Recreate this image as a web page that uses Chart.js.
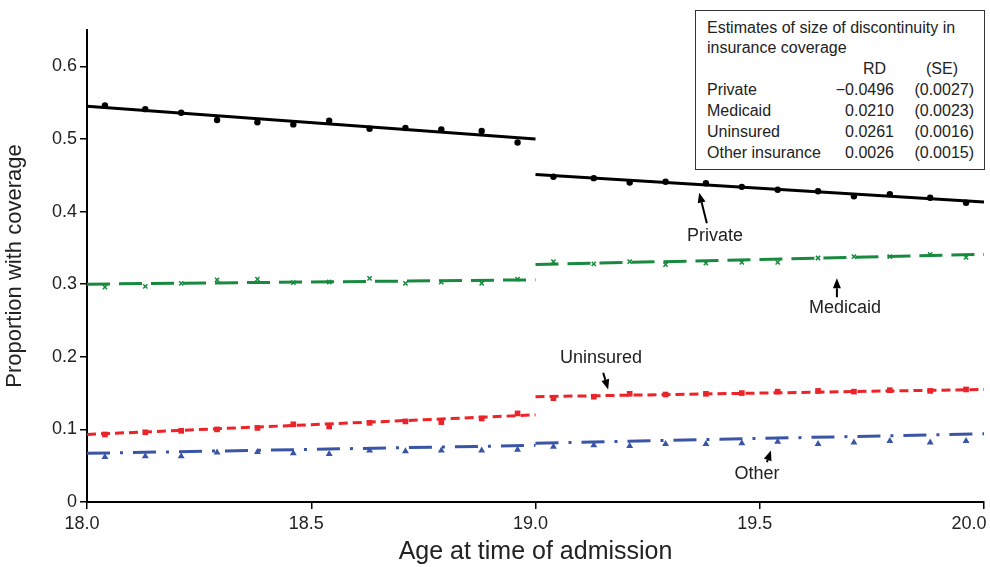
<!DOCTYPE html>
<html>
<head>
<meta charset="utf-8">
<script src="https://cdn.jsdelivr.net/npm/chart.js@4.4.0/dist/chart.umd.min.js"></script>
<style>
  html, body { margin: 0; padding: 0; background: #fff; }
  #wrap { position: relative; width: 990px; height: 567px; }
  #box {
    position: absolute; left: 695px; top: 10px; width: 290px; height: 160px;
    box-sizing: border-box; border: 1.5px solid #333; background: #fff;
    font-family: "Liberation Sans", Arial, sans-serif; font-size: 16px; color: #222;
    padding: 7px 0 0 11px; line-height: 20px;
  }
  #box table { border-collapse: collapse; margin-top: 0px; }
  #box td { padding: 0; height: 21px; white-space: nowrap; }
  #box td.lab { width: 126px; }
  #box td.rd { width: 61px; text-align: right; }
  #box td.se { width: 80px; text-align: right; }
  #box tr.head td.rd { padding-right: 8px; width: 53px; }
  #box tr.head td.se { padding-right: 16px; width: 64px; }
</style>
</head>
<body>
<div id="wrap">
  <canvas id="myChart" width="990" height="567"></canvas>
  <div id="box">
    <div>Estimates of size of discontinuity in</div>
    <div>insurance coverage</div>
    <table>
      <tr class="head"><td class="lab"></td><td class="rd">RD</td><td class="se">(SE)</td></tr>
      <tr><td class="lab">Private</td><td class="rd">&minus;0.0496</td><td class="se">(0.0027)</td></tr>
      <tr><td class="lab">Medicaid</td><td class="rd">0.0210</td><td class="se">(0.0023)</td></tr>
      <tr><td class="lab">Uninsured</td><td class="rd">0.0261</td><td class="se">(0.0016)</td></tr>
      <tr><td class="lab">Other insurance</td><td class="rd">0.0026</td><td class="se">(0.0015)</td></tr>
    </table>
  </div>
</div>
<script>
// monthly age bins (x) and share of admissions with each coverage type
const ages = [18.04, 18.13, 18.21, 18.29, 18.38, 18.46, 18.54, 18.63, 18.71, 18.79, 18.88, 18.96,
              19.04, 19.13, 19.21, 19.29, 19.38, 19.46, 19.54, 19.63, 19.71, 19.79, 19.88, 19.96];
const privateRate = [0.546, 0.541, 0.536, 0.526, 0.523, 0.520, 0.525, 0.514, 0.515, 0.513, 0.511, 0.495,
                     0.448, 0.446, 0.440, 0.441, 0.439, 0.434, 0.430, 0.428, 0.421, 0.424, 0.419, 0.412];
const medicaidRate = [0.296, 0.297, 0.301, 0.306, 0.307, 0.302, 0.303, 0.308, 0.301, 0.303, 0.301, 0.307,
                      0.331, 0.328, 0.331, 0.327, 0.329, 0.330, 0.330, 0.336, 0.338, 0.338, 0.341, 0.337];
const uninsuredRate = [0.093, 0.096, 0.098, 0.100, 0.102, 0.107, 0.104, 0.109, 0.111, 0.110, 0.115, 0.122,
                       0.143, 0.145, 0.149, 0.148, 0.149, 0.150, 0.152, 0.153, 0.152, 0.154, 0.153, 0.155];
const otherRate = [0.062, 0.063, 0.063, 0.068, 0.069, 0.067, 0.066, 0.071, 0.070, 0.071, 0.071, 0.072,
                   0.076, 0.078, 0.077, 0.080, 0.080, 0.081, 0.083, 0.080, 0.082, 0.084, 0.082, 0.084];

// fitted lines: left segment (18-19) and right segment (19-20)
const fitAges = [18.0, 19.0, 19.0, 20.0];
const privateFit = [0.545, 0.500, 0.451, 0.413];
const medicaidFit = [0.300, 0.306, 0.327, 0.341];
const uninsuredFit = [0.093, 0.120, 0.145, 0.155];
const otherFit = [0.067, 0.078, 0.081, 0.094];

const xTicks = [18.0, 18.5, 19.0, 19.5, 20.0];
const yTicks = [0, 0.1, 0.2, 0.3, 0.4, 0.5, 0.6];

const FONT = '"Liberation Sans", Arial, sans-serif';

function pts(vals) {
  return ages.map((a, i) => ({x: a, y: vals[i]}));
}
function fitPts(vals) {
  // null in the middle breaks the line at age 19
  return [
    {x: fitAges[0], y: vals[0]}, {x: fitAges[1], y: vals[1]},
    {x: fitAges[1], y: null},
    {x: fitAges[2], y: vals[2]}, {x: fitAges[3], y: vals[3]}
  ];
}

// label text and arrows, in data coordinates
const notes = [
  {text: 'Private',   at: [19.400, 0.366], from: [19.382, 0.384], to: [19.365, 0.426]},
  {text: 'Medicaid',  at: [19.690, 0.267], from: [19.672, 0.282], to: [19.672, 0.308]},
  {text: 'Uninsured', at: [19.146, 0.198], from: [19.151, 0.178], to: [19.162, 0.155]},
  {text: 'Other',     at: [19.494, 0.039], from: [19.516, 0.055], to: [19.525, 0.071]}
];

const notePlugin = {
  id: 'notes',
  afterDatasetsDraw(chart) {
    const ctx = chart.ctx, x = chart.scales.x, y = chart.scales.y;
    ctx.save();
    ctx.font = '18px ' + FONT;
    ctx.textAlign = 'center';
    ctx.textBaseline = 'middle';
    notes.forEach(n => {
      ctx.fillStyle = '#222';
      ctx.fillText(n.text, x.getPixelForValue(n.at[0]), y.getPixelForValue(n.at[1]));
      const x1 = x.getPixelForValue(n.from[0]), y1 = y.getPixelForValue(n.from[1]);
      const x2 = x.getPixelForValue(n.to[0]), y2 = y.getPixelForValue(n.to[1]);
      const ang = Math.atan2(y2 - y1, x2 - x1);
      const hl = 10, hw = 4;
      ctx.strokeStyle = '#000';
      ctx.lineWidth = 2;
      ctx.beginPath();
      ctx.moveTo(x1, y1);
      ctx.lineTo(x2 - hl * Math.cos(ang), y2 - hl * Math.sin(ang));
      ctx.stroke();
      ctx.fillStyle = '#000';
      ctx.beginPath();
      ctx.moveTo(x2, y2);
      ctx.lineTo(x2 - hl * Math.cos(ang) + hw * Math.sin(ang), y2 - hl * Math.sin(ang) - hw * Math.cos(ang));
      ctx.lineTo(x2 - hl * Math.cos(ang) - hw * Math.sin(ang), y2 - hl * Math.sin(ang) + hw * Math.cos(ang));
      ctx.closePath();
      ctx.fill();
    });
    ctx.restore();
  }
};

const BLACK = '#000', GREEN = '#178a3e', RED = '#ec2329', BLUE = '#3a55a6';

const ctx = document.getElementById('myChart');

new Chart(ctx, {
  type: 'scatter',
  data: {
    datasets: [
      {data: pts(privateRate), pointStyle: 'circle', pointRadius: 3.2, backgroundColor: BLACK, borderColor: BLACK, borderWidth: 0},
      {data: pts(medicaidRate), pointStyle: 'crossRot', pointRadius: 3, borderColor: GREEN, borderWidth: 1.5},
      {data: pts(uninsuredRate), pointStyle: 'rect', pointRadius: 4, backgroundColor: RED, borderColor: RED, borderWidth: 0},
      {data: pts(otherRate), pointStyle: 'triangle', pointRadius: 4, backgroundColor: BLUE, borderColor: BLUE, borderWidth: 0},
      {data: fitPts(privateFit), showLine: true, pointRadius: 0, borderColor: BLACK, borderWidth: 3},
      {data: fitPts(medicaidFit), showLine: true, pointRadius: 0, borderColor: GREEN, borderWidth: 3, borderDash: [23, 9]},
      {data: fitPts(uninsuredFit), showLine: true, pointRadius: 0, borderColor: RED, borderWidth: 3, borderDash: [9, 5]},
      {data: fitPts(otherFit), showLine: true, pointRadius: 0, borderColor: BLUE, borderWidth: 3, borderDash: [23, 10, 3, 10]}
    ]
  },
  options: {
    responsive: false,
    animation: false,
    spanGaps: false,
    layout: { padding: {top: 30, right: 6, left: 0, bottom: 0} },
    plugins: { legend: {display: false}, tooltip: {enabled: false} },
    scales: {
      x: {
        type: 'linear', min: 18, max: 20,
        afterBuildTicks: s => { s.ticks = xTicks.map(v => ({value: v})); },
        afterFit: s => { s.height = 65; s.paddingLeft = 0; s.paddingRight = 0; },
        ticks: {
          font: {family: FONT, size: 18}, color: '#222', padding: 4, maxRotation: 0,
          labelOffset: -5,
          // trailing spaces keep the last label inside the canvas
          callback: v => v === 20 ? '20.0    ' : v.toFixed(1)
        },
        grid: {drawOnChartArea: false, tickLength: 7, color: '#000', lineWidth: 1.5},
        border: {color: '#000', width: 2},
        title: {display: true, text: 'Age at time of admission', font: {family: FONT, size: 25}, color: '#222', padding: {top: 0, bottom: 0}}
      },
      y: {
        min: 0, max: 0.65,
        afterBuildTicks: s => { s.ticks = yTicks.map(v => ({value: v})); },
        afterFit: s => { s.width = 87; s.paddingTop = 0; s.paddingBottom = 0; },
        ticks: {
          font: {family: FONT, size: 18}, color: '#222', padding: 3,
          callback: v => v === 0 ? '0' : v.toFixed(1)
        },
        grid: {drawOnChartArea: false, tickLength: 7, color: '#000', lineWidth: 1.5},
        border: {color: '#000', width: 2},
        title: {display: true, text: 'Proportion with coverage', font: {family: FONT, size: 22}, color: '#222', padding: {top: 2, bottom: 0}}
      }
    }
  },
  plugins: [notePlugin]
});
</script>
</body>
</html>
